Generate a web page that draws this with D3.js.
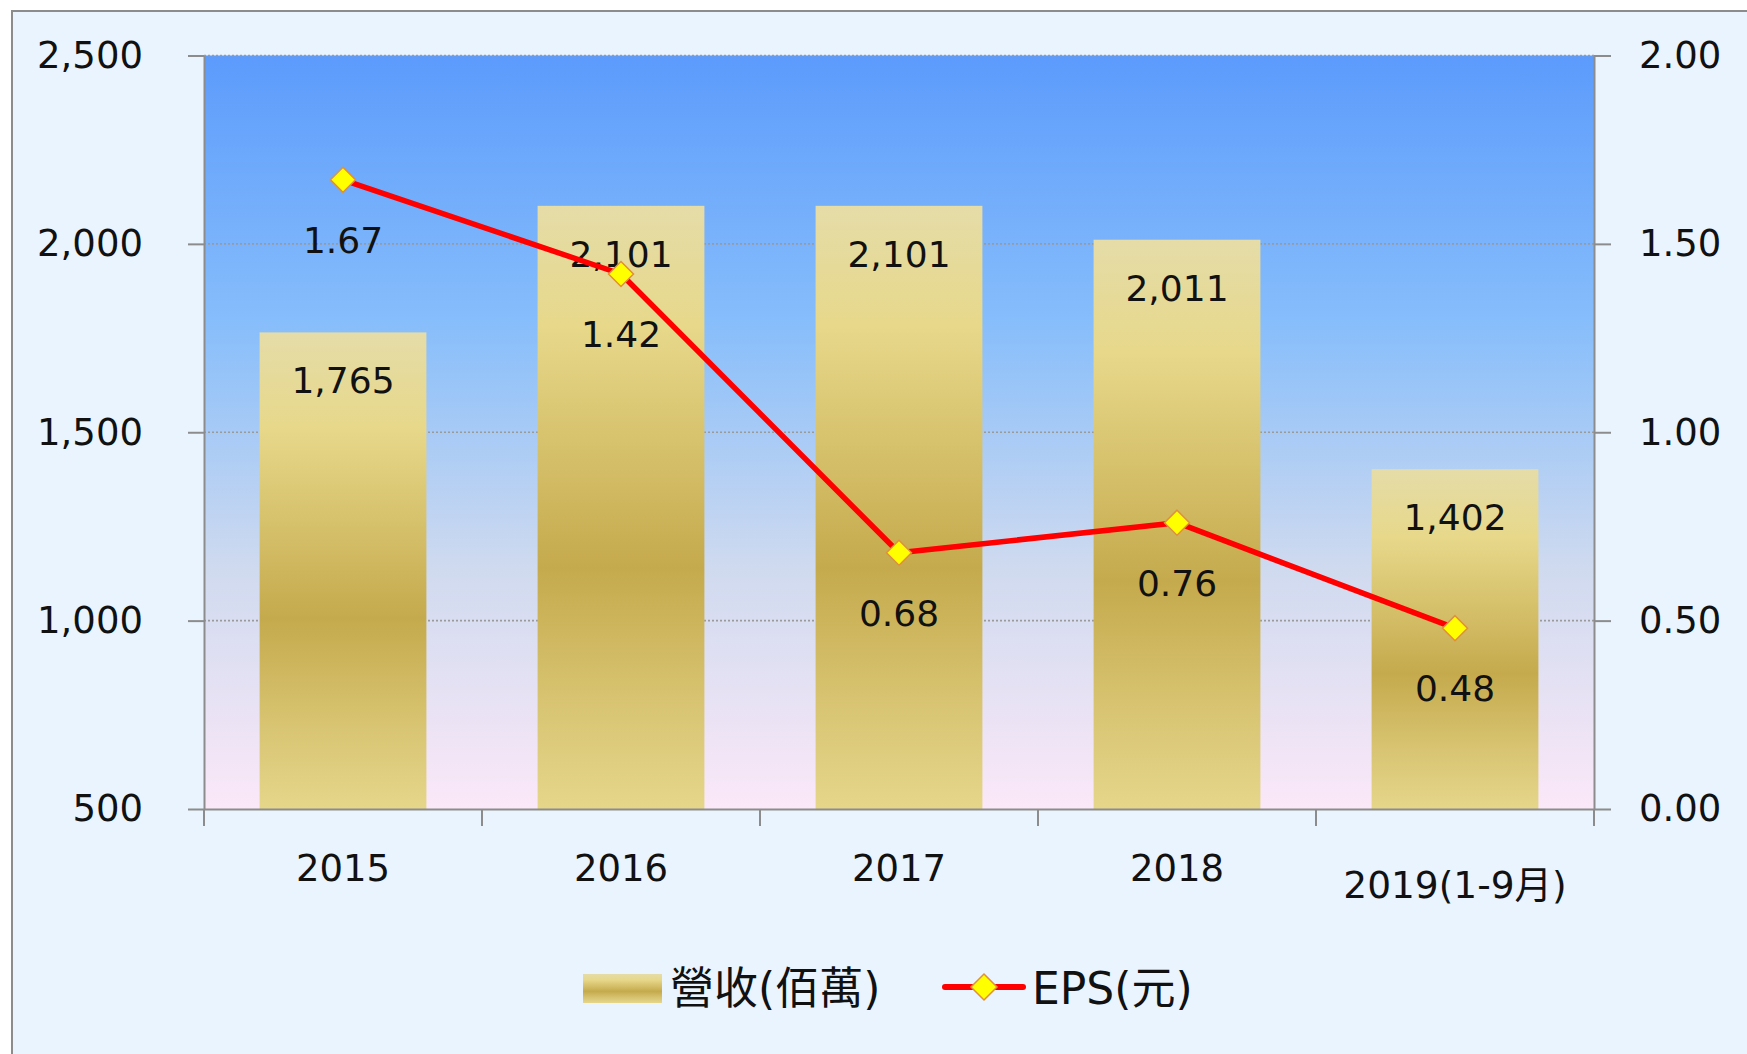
<!DOCTYPE html>
<html>
<head>
<meta charset="utf-8">
<script src="https://cdn.jsdelivr.net/npm/d3@7"></script>
<style>
  body { margin: 0; background: #ffffff; }
  text { font-family: "DejaVu Sans", "Noto Sans CJK TC", sans-serif; fill: #111; }
  .grid line { stroke: #9a9a9a; stroke-width: 1.6; stroke-dasharray: 2,2; }
  .axis path, .axis line { stroke: #8c8c8c; stroke-width: 2; }
</style>
</head>
<body>
<script>
// data
const categories = ["2015", "2016", "2017", "2018", "2019(1-9月)"];
const revenue = [1765, 2101, 2101, 2011, 1402];
const eps = [1.67, 1.42, 0.68, 0.76, 0.48];
const leftTicks = [500, 1000, 1500, 2000, 2500];
const rightTicks = [0, 0.5, 1, 1.5, 2];
const legendLabels = ["營收(佰萬)", "EPS(元)"];

const W = 1747, H = 1054;
const plot = { left: 204, right: 1594, top: 55.5, bottom: 809 };

const svg = d3.select("body").append("svg")
  .attr("width", W)
  .attr("height", H);

const defs = svg.append("defs");

let bg = defs.append("linearGradient")
  .attr("id", "plotBg")
  .attr("x1", 0).attr("y1", 0).attr("x2", 0).attr("y2", 1);
[[0, "#5c9bfc"], [0.35, "#86bdfb"], [0.68, "#cfdaef"], [1, "#fbe8f8"]]
  .forEach(s => bg.append("stop").attr("offset", s[0]).attr("stop-color", s[1]));

let gold = defs.append("linearGradient")
  .attr("id", "gold")
  .attr("x1", 0).attr("y1", 0).attr("x2", 0).attr("y2", 1);
[[0, "#e5dca8"], [0.2, "#e7d88a"], [0.6, "#c5aa4d"], [0.85, "#dac776"], [1, "#e5d68a"]]
  .forEach(s => gold.append("stop").attr("offset", s[0]).attr("stop-color", s[1]));

// chart box
svg.append("rect")
   .attr("x", 12).attr("y", 11)
   .attr("width", W + 20).attr("height", H + 20)
   .attr("fill", "#eaf4fe")
   .attr("stroke", "#8c8c8c")
   .attr("stroke-width", 2);

svg.append("rect")
   .attr("x", plot.left).attr("y", plot.top)
   .attr("width", plot.right - plot.left)
   .attr("height", plot.bottom - plot.top)
   .attr("fill", "url(#plotBg)");

// scales
const x = d3.scaleBand()
  .domain(categories)
  .range([plot.left, plot.right])
  .paddingInner(0.4)
  .paddingOuter(0.2);

const yL = d3.scaleLinear().domain([500, 2500]).range([plot.bottom, plot.top]);
const yR = d3.scaleLinear().domain([0, 2]).range([plot.bottom, plot.top]);

// grid
svg.append("g")
   .attr("class", "grid")
   .selectAll("line")
   .data(leftTicks.slice(1))
   .join("line")
   .attr("x1", plot.left).attr("x2", plot.right)
   .attr("y1", d => yL(d)).attr("y2", d => yL(d));

// bars
const bars = categories.map((c, i) => ({ cat: c, v: revenue[i], e: eps[i] }));

svg.append("g")
   .selectAll("rect")
   .data(bars)
   .join("rect")
   .attr("x", d => x(d.cat))
   .attr("y", d => yL(d.v))
   .attr("width", x.bandwidth())
   .attr("height", d => yL(500) - yL(d.v))
   .attr("fill", "url(#gold)");

// axes
svg.append("g")
   .attr("class", "axis")
   .attr("transform", `translate(${plot.left},0)`)
   .call(d3.axisLeft(yL).tickValues(leftTicks).tickSize(16).tickSizeOuter(0)
           .tickPadding(45).tickFormat(d3.format(",")))
   .call(g => g.selectAll("text").style("font-size", "37px").attr("fill", "#111"));

svg.append("g")
   .attr("class", "axis")
   .attr("transform", `translate(${plot.right},0)`)
   .call(d3.axisRight(yR).tickValues(rightTicks).tickSize(17).tickSizeOuter(0)
           .tickPadding(28).tickFormat(d3.format(".2f")))
   .call(g => g.selectAll("text").style("font-size", "37px").attr("fill", "#111"));

const xAxis = svg.append("g")
   .attr("class", "axis")
   .attr("transform", `translate(0,${plot.bottom})`)
   .call(d3.axisBottom(x).tickSize(0).tickSizeOuter(0).tickPadding(46))
   .call(g => g.selectAll("text").style("font-size", "37px").attr("fill", "#111"));

xAxis.selectAll(".tick text")
     .filter(d => d.includes("月"))
     .attr("dy", "1.15em")
     .style("font-size", "37.5px");

xAxis.selectAll("line.bound")
     .data(d3.range(categories.length + 1))
     .join("line")
     .attr("class", "bound")
     .attr("x1", i => plot.left + i * x.step())
     .attr("x2", i => plot.left + i * x.step())
     .attr("y1", 0).attr("y2", 17);

// bar labels
svg.append("g")
   .selectAll("text")
   .data(bars)
   .join("text")
   .attr("x", d => x(d.cat) + x.bandwidth() / 2)
   .attr("y", d => yL(d.v) + 61)
   .attr("text-anchor", "middle")
   .style("font-size", "36px")
   .text(d => d3.format(",")(d.v));

// EPS line
const line = d3.line()
  .x(d => x(d.cat) + x.bandwidth() / 2)
  .y(d => yR(d.e));

svg.append("path")
   .datum(bars)
   .attr("d", line)
   .attr("fill", "none")
   .attr("stroke", "#ff0000")
   .attr("stroke-width", 5.5)
   .attr("stroke-linejoin", "round");

const diamond = r => `M0,${-r}L${r},0L0,${r}L${-r},0Z`;

svg.append("g")
   .selectAll("path")
   .data(bars)
   .join("path")
   .attr("transform", d => `translate(${x(d.cat) + x.bandwidth() / 2},${yR(d.e)})`)
   .attr("d", diamond(12.5))
   .attr("fill", "#ffff00")
   .attr("stroke", "#e0903a")
   .attr("stroke-width", 1.5);

svg.append("g")
   .selectAll("text")
   .data(bars)
   .join("text")
   .attr("x", d => x(d.cat) + x.bandwidth() / 2)
   .attr("y", d => yR(d.e) + 73)
   .attr("text-anchor", "middle")
   .style("font-size", "36px")
   .text(d => d3.format(".2f")(d.e));

// legend
const legend = svg.append("g");

legend.append("rect")
      .attr("x", 583).attr("y", 974)
      .attr("width", 79).attr("height", 29)
      .attr("fill", "url(#gold)");

legend.append("text")
      .attr("x", 670).attr("y", 1004)
      .style("font-size", "44px")
      .text(legendLabels[0]);

legend.append("line")
      .attr("x1", 945).attr("x2", 1023)
      .attr("y1", 987).attr("y2", 987)
      .attr("stroke", "#ff0000")
      .attr("stroke-width", 6)
      .attr("stroke-linecap", "round");

legend.append("path")
      .attr("transform", "translate(984,987)")
      .attr("d", diamond(13))
      .attr("fill", "#ffff00")
      .attr("stroke", "#e0903a")
      .attr("stroke-width", 1.5);

legend.append("text")
      .attr("x", 1032).attr("y", 1004)
      .style("font-size", "44px")
      .text(legendLabels[1]);
</script>
</body>
</html>
